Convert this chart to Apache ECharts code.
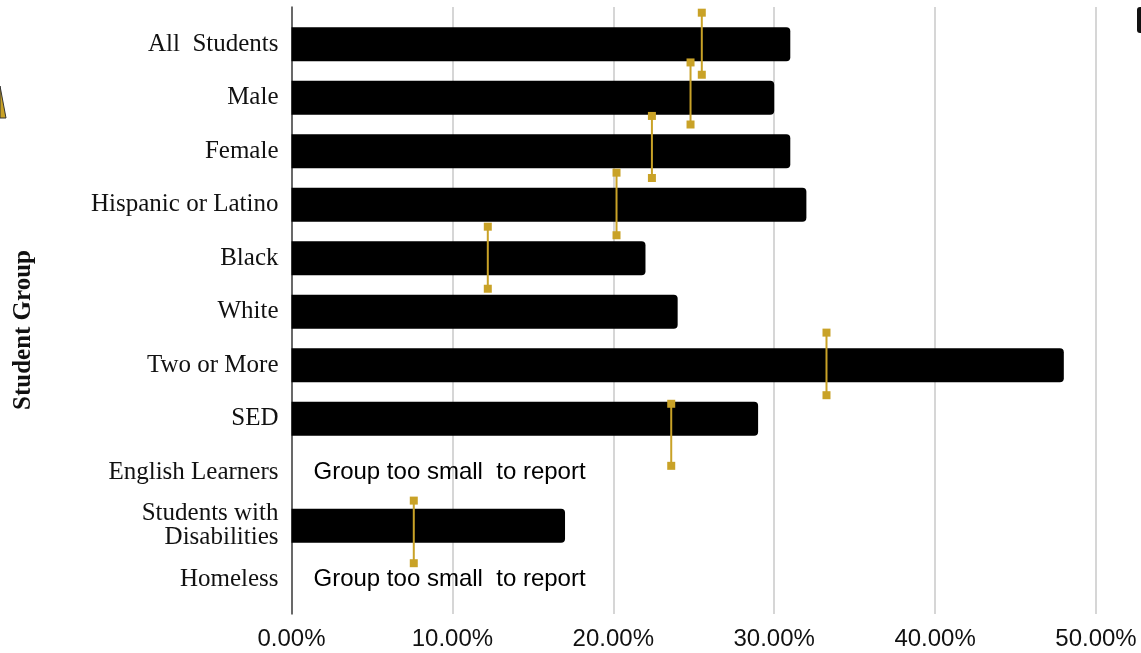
<!DOCTYPE html>
<html>
<head>
<meta charset="utf-8">
<script src="https://cdn.jsdelivr.net/npm/echarts@6/dist/echarts.min.js"></script>
<style>
html,body{margin:0;padding:0;background:#fff;}
#chart{width:1141px;height:653px;}
</style>
</head>
<body>
<div id="chart"></div>
<script>
// ---- data ----
const categories = ['All  Students','Male','Female','Hispanic or Latino','Black','White','Two or More','SED','English Learners','Students with\nDisabilities','Homeless'];
const rates = [31, 30, 31, 32, 22, 24, 48, 29, null, 17, null];           // percent
const notReported = ['English Learners', 'Homeless'];
const notReportedText = 'Group too small  to report';
// gold comparison markers: x value (percent), top and bottom in category-index units
const markerValue  = [25.5, 24.8, 22.4, 20.2, 12.2, 33.25, 23.6, 7.6];
const markerTop    = [-0.59, 0.34, 1.34, 2.40, 3.41, 5.39, 6.72, 8.53];
const markerBottom = [0.57, 1.50, 2.50, 3.57, 4.57, 6.56, 7.88, 9.70];
const xTicks = [0, 10, 20, 30, 40, 50];

const gold = '#c9a227';
const chart = echarts.init(document.getElementById('chart'));

const markerData = markerValue.map((v, i) => [v, markerTop[i], markerBottom[i]]);
const noteData = notReported.map(n => [0, categories.indexOf(n)]);

chart.setOption({
  animation: false,
  backgroundColor: '#fff',
  grid: [
    {left: 291.5, right: 45, top: 7, bottom: 39},
    {left: 291.5, right: 45, top: 17.5, bottom: 47}
  ],
  xAxis: [
    {
      gridIndex: 0, type: 'value', min: xTicks[0], max: xTicks[xTicks.length - 1], interval: 10,
      axisLine: {show: false}, axisTick: {show: false},
      splitLine: {show: true, lineStyle: {color: '#d6d6d6', width: 2}},
      axisLabel: {
        margin: 13, fontFamily: 'Liberation Sans', fontSize: 24, color: '#111',
        formatter: v => v.toFixed(2) + '%'
      }
    },
    {gridIndex: 1, type: 'value', min: 0, max: 50, show: false}
  ],
  yAxis: [
    {
      gridIndex: 0, type: 'value', min: 0, max: 1,
      axisLine: {show: true, lineStyle: {color: '#444', width: 1.5}},
      axisTick: {show: false}, axisLabel: {show: false}, splitLine: {show: false}
    },
    {
      gridIndex: 1, type: 'category', inverse: true, data: categories,
      axisLine: {show: false}, axisTick: {show: false},
      axisLabel: {
        margin: 13, fontFamily: 'Liberation Serif', fontSize: 25, color: '#111',
        lineHeight: 24, align: 'right'
      }
    },
    {gridIndex: 1, type: 'value', min: -0.5, max: 10.5, inverse: true, show: false}
  ],
  series: [
    {
      type: 'bar', xAxisIndex: 1, yAxisIndex: 1, z: 2,
      data: rates.map(v => v === null ? '-' : v),
      barWidth: 34,
      itemStyle: {color: '#000', borderRadius: [0, 4, 4, 0]}
    },
    {
      type: 'custom', xAxisIndex: 1, yAxisIndex: 2, z: 3,
      data: noteData,
      encode: {x: 0, y: 1},
      renderItem: function (params, api) {
        const p = api.coord([api.value(0), api.value(1)]);
        return {
          type: 'text', x: p[0] + 22, y: p[1],
          style: {
            text: notReportedText, fill: '#000',
            font: '24px "Liberation Sans"', align: 'left', verticalAlign: 'middle'
          }
        };
      }
    },
    {
      type: 'custom', xAxisIndex: 1, yAxisIndex: 2, z: 5,
      data: markerData,
      encode: {x: 0, y: [1, 2]},
      renderItem: function (params, api) {
        const p1 = api.coord([api.value(0), api.value(1)]);
        const p2 = api.coord([api.value(0), api.value(2)]);
        const s = 8;
        return {
          type: 'group',
          children: [
            {type: 'line', shape: {x1: p1[0], y1: p1[1], x2: p2[0], y2: p2[1]}, style: {stroke: gold, lineWidth: 2}},
            {type: 'rect', shape: {x: p1[0] - s / 2, y: p1[1] - s / 2, width: s, height: s}, style: {fill: gold}},
            {type: 'rect', shape: {x: p2[0] - s / 2, y: p2[1] - s / 2, width: s, height: s}, style: {fill: gold}}
          ]
        };
      }
    }
  ],
  graphic: [
    {
      type: 'text', x: 24, y: 330, rotation: Math.PI / 2,
      style: {
        text: 'Student Group', font: 'bold 25px "Liberation Serif"', fill: '#111',
        align: 'center', verticalAlign: 'middle'
      }
    },
    {
      type: 'polygon', shape: {points: [[0, 86], [6, 118], [0, 118]]},
      style: {fill: gold, stroke: '#333', lineWidth: 1}
    },
    {
      type: 'rect', shape: {x: 1137, y: 7, width: 10, height: 26, r: 3},
      style: {fill: '#111'}
    }
  ]
});
</script>
</body>
</html>
